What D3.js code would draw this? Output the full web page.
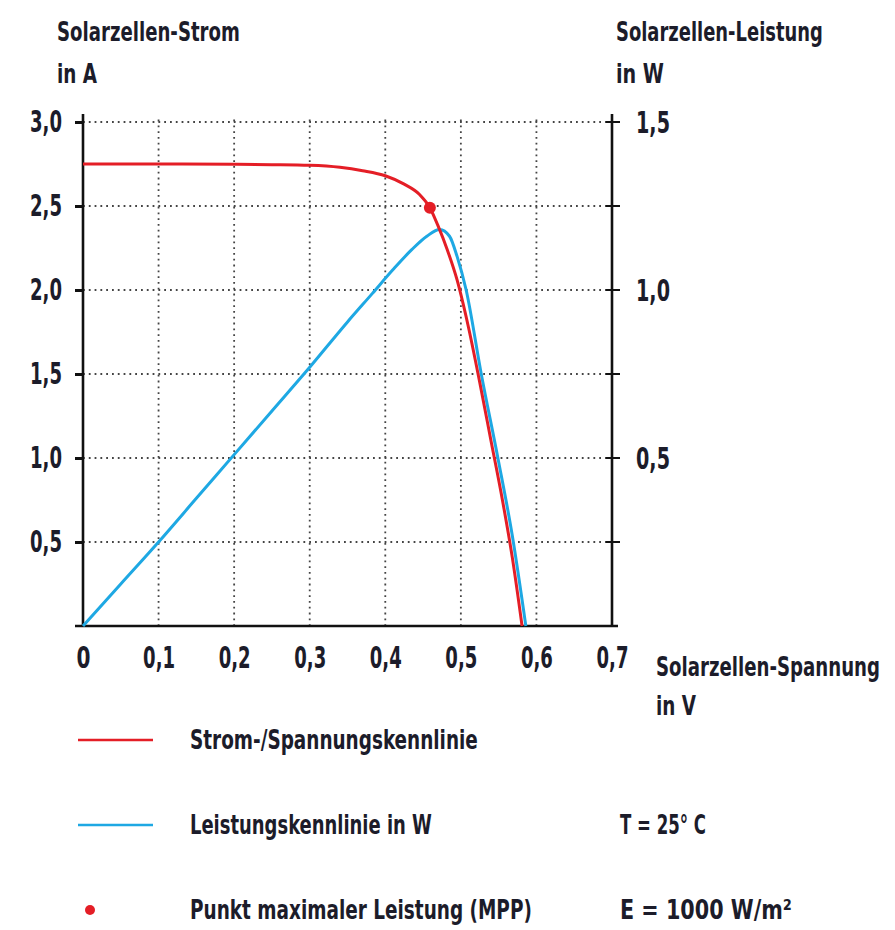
<!DOCTYPE html>
<html>
<head>
<meta charset="utf-8">
<script src="https://cdn.jsdelivr.net/npm/d3@7"></script>
<style>
  body { margin: 0; background: #fff; }
  text { font-family: "DejaVu Sans Condensed", "DejaVu Sans", sans-serif; font-stretch: condensed; font-weight: bold; fill: #1c1c2a; }
</style>
</head>
<body>
<div id="chart"></div>
<script>
// Strom-/Spannungskennlinie (V in Volt, I in Ampere)
const ivVoltage = [0, 0.1, 0.2, 0.25, 0.3, 0.34, 0.37, 0.40, 0.425, 0.445, 0.459, 0.47, 0.482, 0.495, 0.51, 0.525, 0.54, 0.555, 0.568, 0.581];
const ivCurrent = [2.75, 2.75, 2.748, 2.746, 2.742, 2.73, 2.71, 2.68, 2.63, 2.57, 2.49, 2.38, 2.24, 2.06, 1.78, 1.45, 1.1, 0.75, 0.41, 0];

// Leistungskennlinie (V in Volt, P in Watt)
const pVoltage = [0, 0.05, 0.1, 0.15, 0.2, 0.25, 0.3, 0.35, 0.383, 0.41, 0.435, 0.455, 0.472, 0.485, 0.495, 0.507, 0.527, 0.549, 0.568, 0.586];
const pPower = [0, 0.125, 0.25, 0.38, 0.51, 0.64, 0.77, 0.905, 0.99, 1.06, 1.12, 1.16, 1.18, 1.16, 1.10, 1.0, 0.75, 0.5, 0.27, 0];

// MPP
const mpp = { v: 0.459, i: 2.49 };

const xTicks = [0, 0.1, 0.2, 0.3, 0.4, 0.5, 0.6, 0.7];
const yTicks = [0.5, 1.0, 1.5, 2.0, 2.5, 3.0];
const pTicks = [0.5, 1.0, 1.5];
const pMinorTicks = [0.25, 0.5, 0.75, 1.0, 1.25, 1.5];

const fmt = d => d === 0 ? '0' : d3.format('.1f')(d).replace('.', ',');
const tickWidth = d => d === 0 ? 14 : 32;

const width = 895, height = 930;
const svg = d3.select('#chart').append('svg')
    .attr('width', width)
    .attr('height', height);

const x = d3.scaleLinear().domain([0, 0.7]).range([83, 612]);
const y = d3.scaleLinear().domain([0, 3]).range([626, 122]);
const yP = d3.scaleLinear().domain([0, 1.5]).range([626, 122]);

// dotted grid
svg.append('g')
    .selectAll('line')
    .data(xTicks.filter(d => d > 0 && d < 0.7))
    .enter().append('line')
    .attr('x1', d => x(d)).attr('x2', d => x(d))
    .attr('y1', y(0)).attr('y2', y(3) - 6)
    .attr('stroke', '#444').attr('stroke-width', 1.8)
    .attr('stroke-dasharray', '1.8,4');

svg.append('g')
    .selectAll('line')
    .data(yTicks)
    .enter().append('line')
    .attr('x1', x(0)).attr('x2', x(0.7))
    .attr('y1', d => y(d)).attr('y2', d => y(d))
    .attr('stroke', '#444').attr('stroke-width', 1.8)
    .attr('stroke-dasharray', '1.8,4');

// left axis
const leftAxis = svg.append('g')
    .attr('transform', 'translate(' + x(0) + ',0)')
    .call(d3.axisLeft(y).tickValues(yTicks).tickFormat(fmt).tickSize(8).tickPadding(13));
leftAxis.select('.domain').attr('d', 'M0,' + (y(3) - 8) + 'V' + y(0)).attr('stroke', '#111').attr('stroke-width', 2.6);
leftAxis.selectAll('.tick line').attr('stroke', '#111').attr('stroke-width', 3);
leftAxis.selectAll('.tick text')
    .style('font-size', '30px').style('font-family', null).attr('fill', '#1c1c2a')
    .attr('textLength', tickWidth).attr('lengthAdjust', 'spacingAndGlyphs');

// right axis
const rightAxis = svg.append('g')
    .attr('transform', 'translate(' + x(0.7) + ',0)');
rightAxis.append('line')
    .attr('x1', 0).attr('x2', 0)
    .attr('y1', yP(1.5) - 8).attr('y2', yP(0))
    .attr('stroke', '#111').attr('stroke-width', 2.6);
rightAxis.selectAll('.minor')
    .data(pMinorTicks)
    .enter().append('line')
    .attr('x1', -6).attr('x2', 8)
    .attr('y1', d => yP(d)).attr('y2', d => yP(d))
    .attr('stroke', '#111').attr('stroke-width', 2);
rightAxis.selectAll('.lbl')
    .data(pTicks)
    .enter().append('text')
    .attr('x', 24)
    .attr('y', d => yP(d))
    .attr('dy', '0.35em')
    .attr('textLength', 34).attr('lengthAdjust', 'spacingAndGlyphs')
    .style('font-size', '30px')
    .text(fmt);

// bottom axis
const bottomAxis = svg.append('g')
    .attr('transform', 'translate(0,' + y(0) + ')')
    .call(d3.axisBottom(x).tickValues(xTicks).tickFormat(fmt).tickSize(0).tickPadding(21));
bottomAxis.select('.domain').attr('d', 'M' + (x(0) - 8) + ',0H' + (x(0.7) + 6)).attr('stroke', '#111').attr('stroke-width', 2.6);
bottomAxis.selectAll('.tick text')
    .style('font-size', '30px').style('font-family', null).attr('fill', '#1c1c2a')
    .attr('textLength', tickWidth).attr('lengthAdjust', 'spacingAndGlyphs');

// curves
const ivLine = d3.line()
    .x((d, i) => x(ivVoltage[i]))
    .y(d => y(d))
    .curve(d3.curveMonotoneX);

const pLine = d3.line()
    .x((d, i) => x(pVoltage[i]))
    .y(d => yP(d))
    .curve(d3.curveMonotoneX);

svg.append('path')
    .datum(pPower)
    .attr('d', pLine)
    .attr('fill', 'none')
    .attr('stroke', '#1ea8e3')
    .attr('stroke-width', 3);

svg.append('path')
    .datum(ivCurrent)
    .attr('d', ivLine)
    .attr('fill', 'none')
    .attr('stroke', '#e41e26')
    .attr('stroke-width', 3);

svg.append('circle')
    .attr('cx', x(mpp.v))
    .attr('cy', y(mpp.i))
    .attr('r', 6)
    .attr('fill', '#e41e26');

// texts, squeezed horizontally to the widths seen in the reference
function label(t, px, py, w, dy) {
    const el = svg.append('text')
        .attr('dy', dy || 0)
        .style('font-size', '27px')
        .text(t);
    const natural = el.node().getComputedTextLength();
    el.attr('transform', 'translate(' + px + ',' + py + ') scale(' + (w / natural) + ',1)');
}

// axis titles
label('Solarzellen-Strom', 57, 41, 183);
label('in A', 57, 83, 40);
label('Solarzellen-Leistung', 616, 41, 207);
label('in W', 616, 83, 48);
label('Solarzellen-Spannung', 656, 676, 224);
label('in V', 656, 715, 40);

// legend
const legend = [
    { t: 'Strom-/Spannungskennlinie', y: 740, w: 288, type: 'line', color: '#e41e26' },
    { t: 'Leistungskennlinie in W', y: 825, w: 242, type: 'line', color: '#1ea8e3' },
    { t: 'Punkt maximaler Leistung (MPP)', y: 910, w: 342, type: 'dot', color: '#e41e26' }
];
legend.forEach(d => {
    if (d.type === 'line') {
        svg.append('line')
            .attr('x1', 78).attr('x2', 153)
            .attr('y1', d.y).attr('y2', d.y)
            .attr('stroke', d.color).attr('stroke-width', 2.5);
    } else {
        svg.append('circle')
            .attr('cx', 90).attr('cy', d.y).attr('r', 5)
            .attr('fill', d.color);
    }
    label(d.t, 190, d.y, d.w, '0.35em');
});

label('T = 25° C', 620, 825, 86, '0.35em');
label('E = 1000 W/m²', 620, 910, 172, '0.35em');
</script>
</body>
</html>
